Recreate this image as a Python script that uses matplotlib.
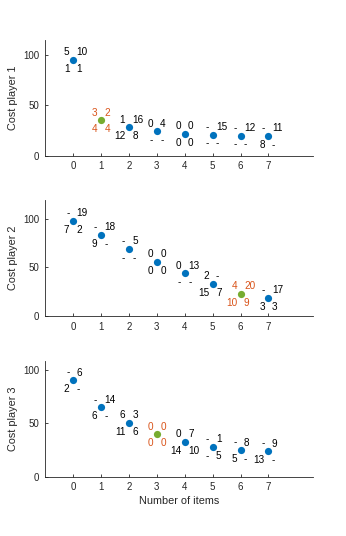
import matplotlib
matplotlib.use("Agg")
import matplotlib.pyplot as plt
import numpy as np

plt.rcParams['font.family'] = ['Liberation Sans', 'DejaVu Sans']

items = [0, 1, 2, 3, 4, 5, 6, 7]

cost_p1 = [95, 35, 28.3, 24.3, 22, 21, 20, 19.7]
cost_p2 = [98, 83.3, 69, 55.6, 44, 32.8, 22.5, 18.8]
cost_p3 = [90, 64.7, 50, 39.7, 32.8, 27.8, 24.7, 23.75]

# labels around each point: top-left, top-right, bottom-left, bottom-right
labels_p1 = [["5", "10", "1", "1"], ["3", "2", "4", "4"], ["1", "16", "12", "8"],
             ["0", "4", "-", "-"], ["0", "0", "0", "0"], ["-", "15", "-", "-"],
             ["-", "12", "-", "-"], ["-", "11", "8", "-"]]
labels_p2 = [["-", "19", "7", "2"], ["-", "18", "9", "-"], ["-", "5", "-", "-"],
             ["0", "0", "0", "0"], ["0", "13", "-", "-"], ["2", "-", "15", "7"],
             ["4", "20", "10", "9"], ["-", "17", "3", "3"]]
labels_p3 = [["-", "6", "2", "-"], ["-", "14", "6", "-"], ["6", "3", "11", "6"],
             ["0", "0", "0", "0"], ["0", "7", "14", "10"], ["-", "1", "-", "5"],
             ["-", "8", "5", "-"], ["-", "9", "13", "-"]]

highlight = [1, 6, 3]
ylims = [115, 119, 108]

blue = '#0072BD'
green = '#77AC30'
orange = '#D95319'
axcol = '#262626'

fig = plt.figure(figsize=(3.46, 5.36), dpi=100)
bottoms = [0.7095, 0.4104, 0.1106]

data = [(cost_p1, labels_p1), (cost_p2, labels_p2), (cost_p3, labels_p3)]

for k, (cost, labs) in enumerate(data):
	ax = fig.add_axes([0.130, bottoms[k], 0.775, 0.216])
	h = highlight[k]
	for i, (x, y) in enumerate(zip(items, cost)):
		col = green if i == h else blue
		ax.plot(x, y, 'o', color=col, markersize=5.2, markeredgewidth=0)
		tcol = orange if i == h else 'black'
		tl, tr, bl, br = labs[i]
		kw = dict(fontsize=7.2, color=tcol, textcoords='offset points', va='center')
		ax.annotate(tl, (x, y), xytext=(-2.5, 5.5), ha='right', **kw)
		ax.annotate(tr, (x, y), xytext=(2.5, 5.5), ha='left', **kw)
		ax.annotate(bl, (x, y), xytext=(-2.5, -6.5), ha='right', **kw)
		ax.annotate(br, (x, y), xytext=(2.5, -6.5), ha='left', **kw)

	ax.set_xlim(-1, 8.6)
	ax.set_ylim(0, ylims[k])
	ax.set_xticks(items)
	ax.set_yticks([0, 50, 100])
	ax.spines['top'].set_visible(False)
	ax.spines['right'].set_visible(False)
	for s in ['left', 'bottom']:
		ax.spines[s].set_color(axcol)
		ax.spines[s].set_linewidth(0.6)
	ax.tick_params(direction='in', length=2.5, width=0.6, colors=axcol, labelsize=7, pad=4)
	ax.set_ylabel(f"Cost player {k + 1}", fontsize=7.8, color=axcol, labelpad=4)
	if k == 2:
		ax.set_xlabel("Number of items", fontsize=7.8, color=axcol, labelpad=3)

fig.savefig("out.png", dpi=100)
